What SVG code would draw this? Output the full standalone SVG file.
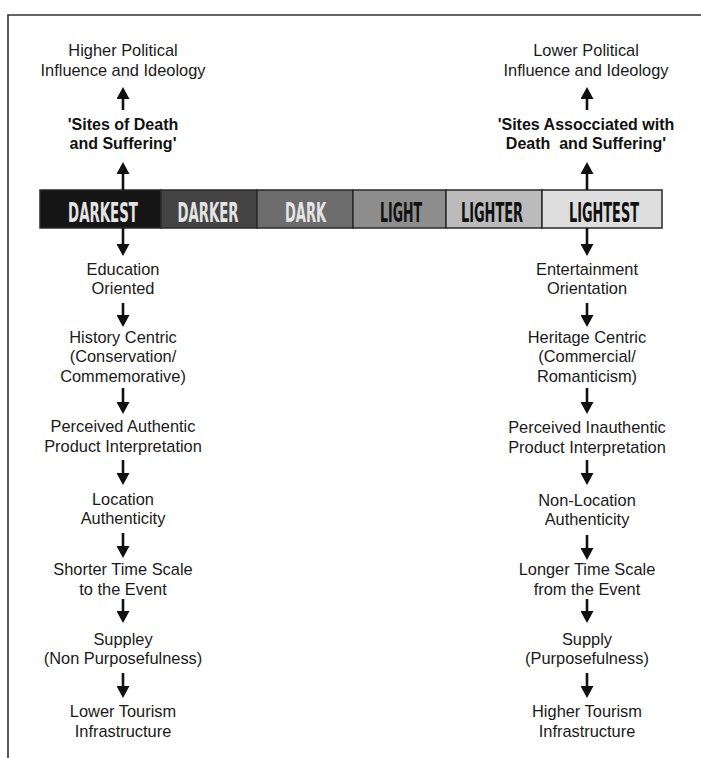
<svg xmlns="http://www.w3.org/2000/svg" width="701" height="758" viewBox="0 0 701 758">
  <style>
    .lbl { font-family: "Liberation Sans", Arial, sans-serif; font-size: 16.4px; fill: #1a1a1a; text-anchor: middle; }
    .bold { font-family: "Liberation Sans", Arial, sans-serif; font-size: 16px; font-weight: bold; fill: #111; text-anchor: middle; white-space: pre; }
    .seg { stroke: #2a2a2a; stroke-width: 1.5; }
    .band { font-family: "DejaVu Sans Condensed", "DejaVu Sans", sans-serif; font-weight: bold; font-size: 27px; text-anchor: middle; }
    .on-dark { fill: #e4e4e4; }
    .on-light { fill: #111; }
    .conn path { stroke: #111; stroke-width: 2.6; fill: none; marker-end: url(#ah); }
  </style>
  <defs>
    <marker id="ah" viewBox="0 0 12 13" refX="3" refY="6.5" markerWidth="12" markerHeight="13" markerUnits="userSpaceOnUse" orient="auto">
      <path d="M0,0 L12,6.5 L0,13 z" fill="#111"/>
    </marker>
  </defs>

  <rect width="701" height="758" fill="#ffffff"/>

  <!-- frame (top and left edges) -->
  <path d="M8,758 V15 H701" fill="none" stroke="#333" stroke-width="1.6"/>

  <!-- scale bar from darkest to lightest; labels squeezed horizontally -->
  <g id="scale-bar">
    <rect class="seg" x="40" y="190" width="121" height="38" fill="#151515"/>
    <rect class="seg" x="161" y="190" width="96" height="38" fill="#444444"/>
    <rect class="seg" x="257" y="190" width="96" height="38" fill="#6c6c6c"/>
    <rect class="seg" x="353" y="190" width="93" height="38" fill="#8d8d8d"/>
    <rect class="seg" x="446" y="190" width="96" height="38" fill="#bbbbbb"/>
    <rect class="seg" x="542" y="190" width="120" height="38" fill="#dedede"/>
    <text class="band on-dark" transform="translate(103,222) scale(0.55,1)" textLength="127" lengthAdjust="spacingAndGlyphs">DARKEST</text>
    <text class="band on-dark" transform="translate(208,222) scale(0.55,1)" textLength="111" lengthAdjust="spacingAndGlyphs">DARKER</text>
    <text class="band on-dark" transform="translate(305.5,222) scale(0.55,1)" textLength="75" lengthAdjust="spacingAndGlyphs">DARK</text>
    <text class="band on-light" transform="translate(401,222) scale(0.55,1)" textLength="76" lengthAdjust="spacingAndGlyphs">LIGHT</text>
    <text class="band on-light" transform="translate(492,222) scale(0.55,1)" textLength="113" lengthAdjust="spacingAndGlyphs">LIGHTER</text>
    <text class="band on-light" transform="translate(604,222) scale(0.55,1)" textLength="127" lengthAdjust="spacingAndGlyphs">LIGHTEST</text>
  </g>

  <!-- left column -->
  <g id="higher-political">
    <text class="lbl" x="123" y="56">Higher Political</text>
    <text class="lbl" x="123" y="76">Influence and Ideology</text>
  </g>
  <g id="sites-death">
    <text class="bold" x="123" y="130">'Sites of Death</text>
    <text class="bold" x="123" y="149">and Suffering'</text>
  </g>
  <g id="education">
    <text class="lbl" x="123" y="275">Education</text>
    <text class="lbl" x="123" y="294">Oriented</text>
  </g>
  <g id="history">
    <text class="lbl" x="123" y="343">History Centric</text>
    <text class="lbl" x="123" y="362">(Conservation/</text>
    <text class="lbl" x="123" y="382">Commemorative)</text>
  </g>
  <g id="authentic">
    <text class="lbl" x="123" y="432">Perceived Authentic</text>
    <text class="lbl" x="123" y="452">Product Interpretation</text>
  </g>
  <g id="location">
    <text class="lbl" x="123" y="505">Location</text>
    <text class="lbl" x="123" y="524">Authenticity</text>
  </g>
  <g id="shorter-time">
    <text class="lbl" x="123" y="575">Shorter Time Scale</text>
    <text class="lbl" x="123" y="595">to the Event</text>
  </g>
  <g id="suppley">
    <text class="lbl" x="123" y="645">Suppley</text>
    <text class="lbl" x="123" y="664">(Non Purposefulness)</text>
  </g>
  <g id="lower-infra">
    <text class="lbl" x="123" y="717">Lower Tourism</text>
    <text class="lbl" x="123" y="737">Infrastructure</text>
  </g>

  <!-- right column -->
  <g id="lower-political">
    <text class="lbl" x="586" y="56">Lower Political</text>
    <text class="lbl" x="586" y="76">Influence and Ideology</text>
  </g>
  <g id="sites-associated">
    <text class="bold" x="586" y="130">'Sites Assocciated with</text>
    <text class="bold" x="586" y="149" xml:space="preserve">Death  and Suffering'</text>
  </g>
  <g id="entertainment">
    <text class="lbl" x="587" y="275">Entertainment</text>
    <text class="lbl" x="587" y="294">Orientation</text>
  </g>
  <g id="heritage">
    <text class="lbl" x="587" y="343">Heritage Centric</text>
    <text class="lbl" x="587" y="362">(Commercial/</text>
    <text class="lbl" x="587" y="382">Romanticism)</text>
  </g>
  <g id="inauthentic">
    <text class="lbl" x="587" y="433">Perceived Inauthentic</text>
    <text class="lbl" x="587" y="453">Product Interpretation</text>
  </g>
  <g id="non-location">
    <text class="lbl" x="587" y="506">Non-Location</text>
    <text class="lbl" x="587" y="525">Authenticity</text>
  </g>
  <g id="longer-time">
    <text class="lbl" x="587" y="575">Longer Time Scale</text>
    <text class="lbl" x="587" y="595">from the Event</text>
  </g>
  <g id="supply">
    <text class="lbl" x="587" y="645">Supply</text>
    <text class="lbl" x="587" y="664">(Purposefulness)</text>
  </g>
  <g id="higher-infra">
    <text class="lbl" x="587" y="717">Higher Tourism</text>
    <text class="lbl" x="587" y="737">Infrastructure</text>
  </g>

  <!-- connectors -->
  <g id="connectors" class="conn">
    <path d="M123,190 V171"/>
    <path d="M123,110 V96"/>
    <path d="M123,228 V247"/>
    <path d="M123,303 V318"/>
    <path d="M123,388 V405"/>
    <path d="M123,460 V476"/>
    <path d="M123,533 V549"/>
    <path d="M123,599 V614"/>
    <path d="M123,673 V689"/>

    <path d="M587,190 V171"/>
    <path d="M587,110 V96"/>
    <path d="M587,228 V247"/>
    <path d="M587,303 V318"/>
    <path d="M587,388 V405"/>
    <path d="M587,460 V476"/>
    <path d="M587,535 V551"/>
    <path d="M587,599 V614"/>
    <path d="M587,673 V689"/>
  </g>
</svg>
